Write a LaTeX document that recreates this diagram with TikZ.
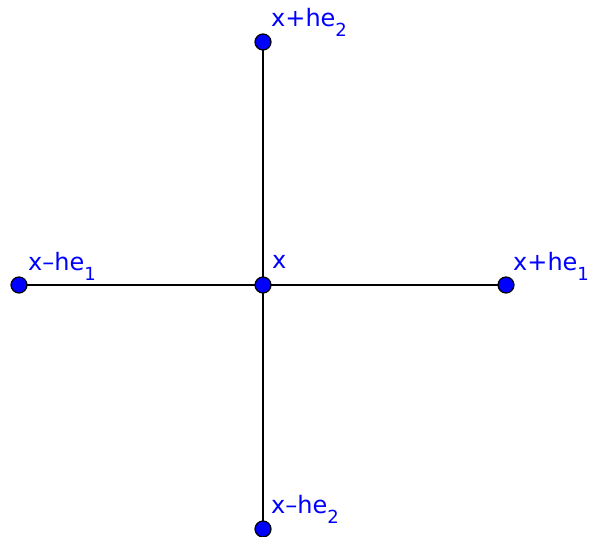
\documentclass[tikz,border=0pt]{standalone}
\usepackage{fontspec}
\setmainfont{DejaVu Sans}
\newcommand{\lbsub}[1]{\raisebox{-10pt}{\fontsize{18}{18}\selectfont #1}}
\begin{document}
\begin{tikzpicture}[x=1pt,y=-1pt,
  pt/.style={circle,draw=black,line width=1.2pt,fill={rgb,255:red,0;green,0;blue,255},minimum size=16pt,inner sep=0pt},
  lbl/.style={anchor=base west,inner sep=0pt,text={rgb,255:red,0;green,0;blue,255},font=\fontsize{24}{24}\selectfont},
  seg/.style={draw=black,line width=1.3pt}]
\useasboundingbox (0,0) rectangle (591,537);
\coordinate (C) at (263,285);
\coordinate (T) at (263,42);
\coordinate (B) at (263,529);
\coordinate (L) at (19,285);
\coordinate (R) at (506,285);
\draw[seg] (T) -- (B);
\draw[seg] (L) -- (R);
\node[pt] (c) at (C) {};
\node[pt] (t) at (T) {};
\node[pt] (b) at (B) {};
\node[pt] (l) at (L) {};
\node[pt] (r) at (R) {};
\node[lbl] (lt) at (271,27) {x+he\lbsub{2}};
\node[lbl] (lc) at (272,269) {x};
\node[lbl] (ll) at (28,270) {x–he\lbsub{1}};
\node[lbl] (lr) at (513,270) {x+he\lbsub{1}};
\node[lbl] (lb) at (271,513) {x–he\lbsub{2}};
\end{tikzpicture}
\end{document}
